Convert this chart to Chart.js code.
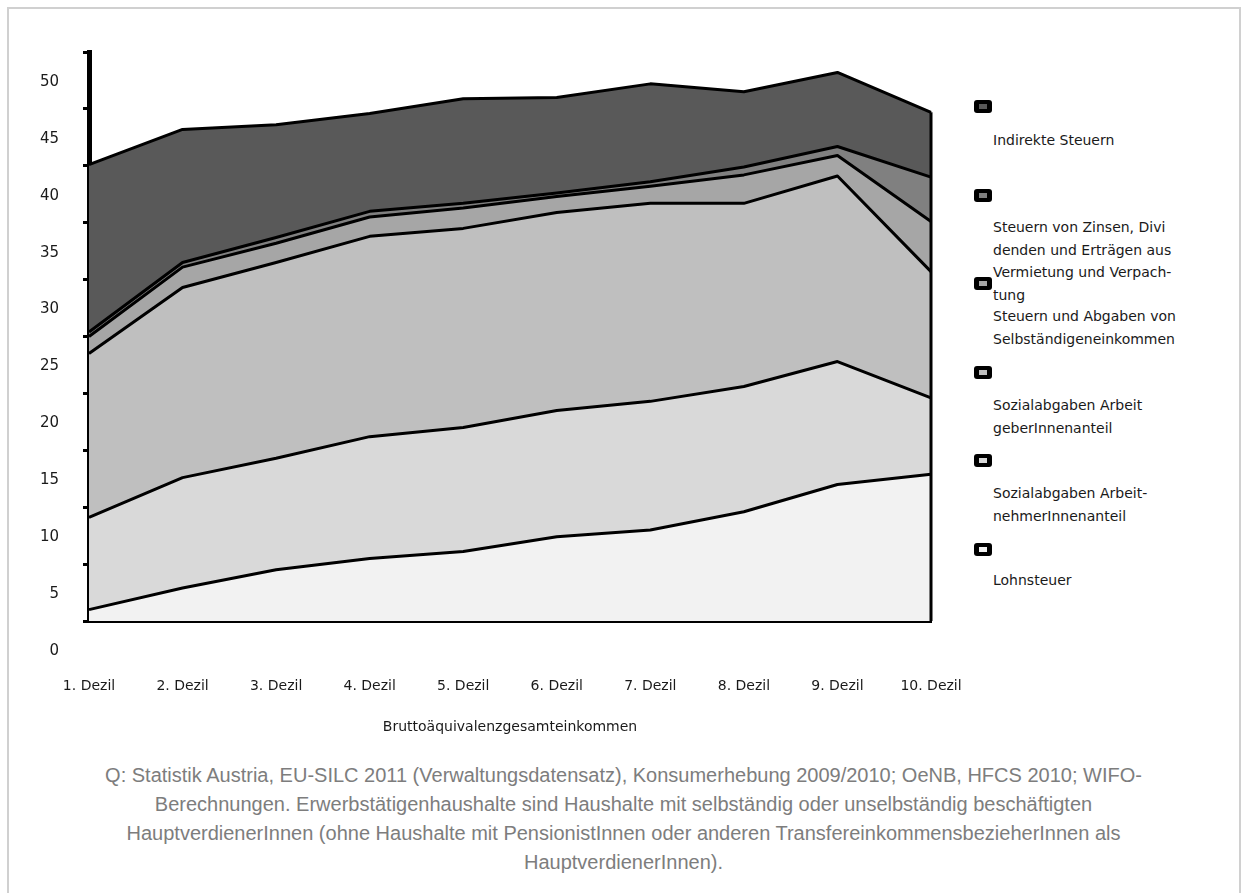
<!DOCTYPE html>
<html lang="de">
<head>
<meta charset="utf-8">
<title>Abgaben nach Dezilen</title>
<script src="https://cdn.jsdelivr.net/npm/chart.js@4.4.1/dist/chart.umd.min.js"></script>
<style>
  html, body { margin: 0; padding: 0; background: #fff; }
  body { width: 1247px; height: 893px; position: relative; overflow: hidden; font-family: "DejaVu Sans", sans-serif; }
  .frame { position: absolute; left: 7px; top: 7px; width: 1234px; height: 920px; border: 2px solid #d0d0d0; box-sizing: border-box; }
  #chartBox { position: absolute; left: 0; top: 0; }
  .lg-marker { position: absolute; left: 974px; width: 18px; height: 13px; background: #000; border-radius: 3px; }
  .lg-marker span { position: absolute; left: 5px; top: 4px; width: 8px; height: 5px; }
  .lg-text { position: absolute; left: 993px; font-size: 14px; line-height: 22.5px; color: #1a1a1a; white-space: nowrap; }
  .caption { position: absolute; left: 0; top: 761px; width: 1247px; text-align: center; font-family: "Liberation Sans", Arial, sans-serif; font-size: 20px; line-height: 29px; color: #7d7d7d; }
</style>
</head>
<body>
<div class="frame"></div>
<div id="chartBox"><canvas id="chart" width="966" height="745"></canvas></div>
<div id="legend"></div>
<div class="caption">
  Q: Statistik Austria, EU-SILC 2011 (Verwaltungsdatensatz), Konsumerhebung 2009/2010; OeNB, HFCS 2010; WIFO-<br>
  Berechnungen. Erwerbstätigenhaushalte sind Haushalte mit selbständig oder unselbständig beschäftigten<br>
  HauptverdienerInnen (ohne Haushalte mit PensionistInnen oder anderen TransfereinkommensbezieherInnen als<br>
  HauptverdienerInnen).
</div>
<script>
// Daten (in % des Bruttoäquivalenzgesamteinkommens), gestapelt
const dezile = ['1. Dezil', '2. Dezil', '3. Dezil', '4. Dezil', '5. Dezil', '6. Dezil', '7. Dezil', '8. Dezil', '9. Dezil', '10. Dezil'];
const lohnsteuer = [1.0, 2.9, 4.5, 5.5, 6.1, 7.4, 8.0, 9.6, 12.0, 12.9];
const svArbeitnehmer = [8.1, 9.7, 9.8, 10.7, 10.9, 11.1, 11.3, 11.0, 10.8, 6.7];
const svArbeitgeber = [14.4, 16.7, 17.2, 17.6, 17.5, 17.4, 17.4, 16.1, 16.3, 11.1];
const selbstaendige = [1.5, 1.8, 1.7, 1.7, 1.8, 1.4, 1.5, 2.5, 1.8, 4.4];
const zinsen = [0.4, 0.4, 0.5, 0.5, 0.4, 0.3, 0.4, 0.7, 0.8, 3.9];
const indirekte = [14.7, 11.7, 9.9, 8.6, 9.2, 8.4, 8.6, 6.6, 6.5, 5.7];
const yTicks = [0, 5, 10, 15, 20, 25, 30, 35, 40, 45, 50];

const series = [
    { label: ['Lohnsteuer'], data: lohnsteuer, color: '#f2f2f2' },
    { label: ['Sozialabgaben Arbeit-', 'nehmerInnenanteil'], data: svArbeitnehmer, color: '#d9d9d9' },
    { label: ['Sozialabgaben Arbeit', 'geberInnenanteil'], data: svArbeitgeber, color: '#bfbfbf' },
    { label: ['Steuern und Abgaben von', 'Selbständigeneinkommen'], data: selbstaendige, color: '#a6a6a6' },
    { label: ['Steuern von Zinsen, Divi', 'denden und Erträgen aus', 'Vermietung und Verpach-', 'tung'], data: zinsen, color: '#808080' },
    { label: ['Indirekte Steuern'], data: indirekte, color: '#595959' }
];

// Legende (oben: letzte Reihe)
const markerTops = [100, 189, 277, 366, 454, 543];
const textTops = [129, 216, 305, 394, 482, 569];
let legendHTML = '';
series.slice().reverse().forEach((s, i) => {
    legendHTML += `<div class="lg-marker" style="top:${markerTops[i]}px"><span style="background:${s.color}"></span></div>`;
    legendHTML += `<div class="lg-text" style="top:${textTops[i]}px">${s.label.join('<br>')}</div>`;
});
document.getElementById('legend').innerHTML = legendHTML;

// rechte Kante der Flächen
const rightEdge = {
    id: 'rightEdge',
    afterDatasetsDraw(chart) {
        const last = dezile.length - 1;
        const total = series.reduce((sum, s) => sum + s.data[last], 0);
        const x = chart.scales.x.getPixelForValue(last);
        const ctx = chart.ctx;
        ctx.save();
        ctx.strokeStyle = '#000';
        ctx.lineWidth = 3;
        ctx.beginPath();
        ctx.moveTo(x, chart.scales.y.getPixelForValue(total));
        ctx.lineTo(x, chart.scales.y.getPixelForValue(0));
        ctx.stroke();
        ctx.restore();
    }
};

Chart.defaults.font.family = "'DejaVu Sans', sans-serif";
Chart.defaults.font.size = 14;
Chart.defaults.color = '#1a1a1a';

new Chart(document.getElementById('chart').getContext('2d'), {
    type: 'line',
    data: {
        labels: dezile,
        datasets: series.map((s, i) => ({
            label: s.label.join(' '),
            data: s.data,
            backgroundColor: s.color,
            borderColor: '#000',
            borderWidth: 3,
            borderJoinStyle: 'round',
            fill: i === 0 ? 'origin' : '-1',
            pointRadius: 0,
            tension: 0
        }))
    },
    options: {
        responsive: false,
        animation: false,
        layout: { padding: { top: 52, right: 35, left: 0, bottom: 0 } },
        plugins: {
            legend: { display: false },
            tooltip: { enabled: false }
        },
        scales: {
            x: {
                z: 1,
                grid: { display: false, drawTicks: false },
                border: { display: true, color: '#000', width: 4 },
                ticks: { autoSkip: false, maxRotation: 0, padding: 57 },
                title: { display: true, text: 'Bruttoäquivalenzgesamteinkommen', font: { size: 14 }, padding: { top: 0, bottom: 9 } },
                afterFit(scale) {
                    scale.height = 124;
                    scale.paddingLeft = 0;
                    scale.paddingRight = 0;
                }
            },
            y: {
                z: 1,
                stacked: true,
                min: 0,
                max: 50,
                afterBuildTicks(scale) {
                    scale.ticks = yTicks.map(v => ({ value: v }));
                },
                grid: { drawOnChartArea: false, drawTicks: true, tickLength: 6, color: '#000', lineWidth: 3 },
                border: { display: true, color: '#000', width: 5 },
                ticks: { padding: 24, labelOffset: 30, font: { size: 15 } },
                afterFit(scale) {
                    scale.width = 89;
                    scale.paddingTop = 0;
                    scale.paddingBottom = 0;
                }
            }
        }
    },
    plugins: [rightEdge]
});
</script>
</body>
</html>
